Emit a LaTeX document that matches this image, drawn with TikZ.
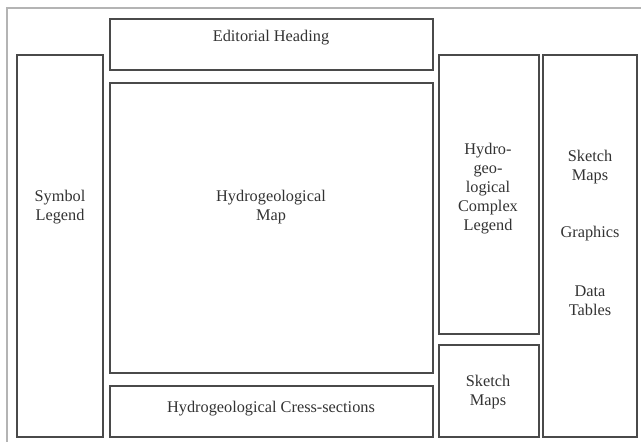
\documentclass[tikz,border=0pt]{standalone}
\usepackage{fontspec}
\setmainfont{Liberation Serif}
\definecolor{boxline}{HTML}{4A4A4A}
\definecolor{frameline}{HTML}{B4B4B4}
\definecolor{txt}{HTML}{333333}
\begin{document}
\begin{tikzpicture}[x=1pt,y=-1pt,
  panel/.style={draw=boxline,line width=1.3pt},
  lbl/.style={text=txt,align=center,font=\fontsize{16.3}{19}\selectfont,inner sep=0pt}]
\useasboundingbox (0,0) rectangle (641,442);
\fill[white] (0,0) rectangle (641,442);
\draw[frameline,line width=1.2pt] (7,460) -- (7,8) -- (660,8);
% panels
\draw[panel] (17,55) rectangle (103,437);
\draw[panel] (110,19) rectangle (433,70);
\draw[panel] (110,83) rectangle (433,373);
\draw[panel] (110,386) rectangle (433,437);
\draw[panel] (439,55) rectangle (539,334);
\draw[panel] (439,345) rectangle (539,437);
\draw[panel] (543,55) rectangle (637,437);
% labels
\node[lbl] (edit) at (271,38) {Editorial Heading};
\node[lbl] (map) at (271,207) {Hydrogeological\\Map};
\node[lbl] (sym) at (60,207) {Symbol\\Legend};
\node[lbl] (cross) at (271,409) {Hydrogeological Cress-sections};
\node[lbl] (complex) at (488,189) {Hydro-\\geo-\\logical\\Complex\\Legend};
\node[lbl] (sk1) at (590,167) {Sketch\\Maps};
\node[lbl] (graph) at (590,234) {Graphics};
\node[lbl] (data) at (590,301) {Data\\Tables};
\node[lbl] (sk2) at (488,392) {Sketch\\Maps};
\end{tikzpicture}
\end{document}
